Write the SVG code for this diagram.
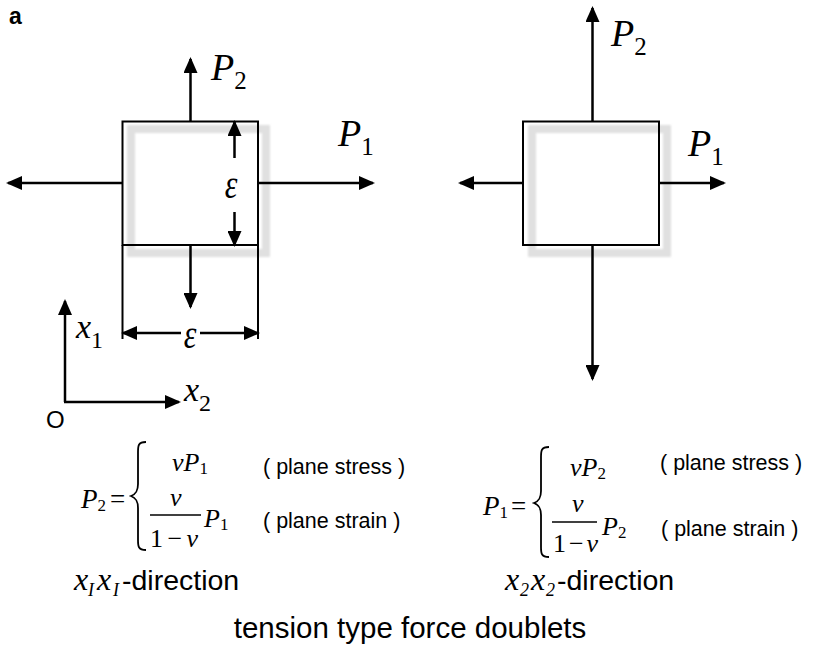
<svg xmlns="http://www.w3.org/2000/svg" width="818" height="654" viewBox="0 0 818 654">
<style>
.ln{stroke:#000;stroke-width:2.5;fill:none}
.box{stroke:#000;stroke-width:2;fill:none}
.sh{stroke:#e0e0e0;stroke-width:8;fill:none}
.m{font-family:"Liberation Serif","Times New Roman",serif;font-style:italic;fill:#000}
.r{font-family:"Liberation Serif","Times New Roman",serif;fill:#000}
.s{font-family:"Liberation Sans",Arial,sans-serif;fill:#000}
.sub{font-family:"Liberation Serif","Times New Roman",serif;font-style:normal}
</style>
<defs>
<marker id="ah" markerUnits="userSpaceOnUse" markerWidth="16" markerHeight="14" refX="14" refY="7" orient="auto">
<path d="M0,0 L16,7 L0,14 Z" fill="#000"/>
</marker>
<filter id="bl" x="-10%" y="-10%" width="120%" height="120%"><feGaussianBlur stdDeviation="0.8"/></filter>
</defs>

<text x="9" y="24" class="s" font-size="23" font-weight="bold">a</text>

<g id="left-element">
<rect x="131" y="129" width="135" height="124" class="sh" filter="url(#bl)"/>
<rect x="122.5" y="121.5" width="135.5" height="123.5" class="box"/>
<line x1="122.5" y1="245" x2="122.5" y2="339" class="box"/>
<line x1="258" y1="245" x2="258" y2="339" class="box"/>
</g>

<g id="right-element">
<rect x="532" y="129" width="135" height="124" class="sh" filter="url(#bl)"/>
<rect x="523" y="121.5" width="136" height="123.5" class="box"/>
</g>

<g id="connectors">
<line x1="190.5" y1="121" x2="190.5" y2="59" class="ln" marker-end="url(#ah)"/>
<line x1="122" y1="183" x2="8" y2="183" class="ln" marker-end="url(#ah)"/>
<line x1="258" y1="183" x2="373" y2="183" class="ln" marker-end="url(#ah)"/>
<line x1="190.5" y1="245" x2="190.5" y2="307" class="ln" marker-end="url(#ah)"/>
<line x1="234.5" y1="158" x2="234.5" y2="122" class="ln" marker-end="url(#ah)"/>
<line x1="234.5" y1="212" x2="234.5" y2="245" class="ln" marker-end="url(#ah)"/>
<line x1="181" y1="333" x2="123" y2="333" class="ln" marker-end="url(#ah)"/>
<line x1="200" y1="333" x2="258" y2="333" class="ln" marker-end="url(#ah)"/>
<line x1="65" y1="402" x2="65" y2="301" class="ln" marker-end="url(#ah)"/>
<line x1="64" y1="402" x2="179" y2="402" class="ln" marker-end="url(#ah)"/>
<line x1="592.5" y1="121" x2="592.5" y2="8" class="ln" marker-end="url(#ah)"/>
<line x1="523" y1="183" x2="460" y2="183" class="ln" marker-end="url(#ah)"/>
<line x1="659" y1="183" x2="724" y2="183" class="ln" marker-end="url(#ah)"/>
<line x1="592.5" y1="245" x2="592.5" y2="379" class="ln" marker-end="url(#ah)"/>
</g>

<g id="labels-left">
<text x="211" y="80" class="m" font-size="38">P<tspan class="sub" font-size="25" dy="9">2</tspan></text>
<text x="338" y="146" class="m" font-size="38">P<tspan class="sub" font-size="25" dy="9">1</tspan></text>
<text x="231" y="198" class="m" font-size="40" text-anchor="middle" transform="translate(231,198) scale(0.8,1) translate(-231,-198)">ε</text>
<text x="190" y="348" class="m" font-size="40" text-anchor="middle" transform="translate(190,348) scale(0.8,1) translate(-190,-348)">ε</text>
<text x="76" y="338" class="m" font-size="34">x<tspan class="sub" font-size="24" dy="10">1</tspan></text>
<text x="184" y="401" class="m" font-size="34">x<tspan class="sub" font-size="24" dy="10">2</tspan></text>
<text x="46" y="428" class="s" font-size="24">O</text>
</g>

<g id="labels-right">
<text x="611" y="46" class="m" font-size="38">P<tspan class="sub" font-size="25" dy="9">2</tspan></text>
<text x="688" y="156" class="m" font-size="38">P<tspan class="sub" font-size="25" dy="9">1</tspan></text>
</g>

<g id="eq-left">
<text x="81" y="508" class="m" font-size="27">P<tspan class="sub" font-size="17" dy="3">2</tspan></text>
<text x="110" y="508" class="r" font-size="27">=</text>
<path d="M146,442 C138,442 138,446 138,452 L138,484 C138,491 136,494 131,496 C136,498 138,501 138,508 L138,540 C138,546 138,550 146,550" stroke="#000" stroke-width="1.8" fill="none"/>
<text x="172" y="471" class="m" font-size="26">νP<tspan class="sub" font-size="17" dy="3">1</tspan></text>
<text x="170" y="506" class="m" font-size="26">ν</text>
<line x1="150" y1="515" x2="201" y2="515" stroke="#000" stroke-width="1.3"/>
<text x="150" y="547" class="r" font-size="26" textLength="48" lengthAdjust="spacing">1−<tspan class="m">ν</tspan></text>
<text x="204" y="527" class="m" font-size="26">P<tspan class="sub" font-size="17" dy="3">1</tspan></text>
<text x="263" y="474" class="s" font-size="21.5">( plane stress )</text>
<text x="263" y="528" class="s" font-size="21.5">( plane strain )</text>
<text class="m" font-size="32" y="590"><tspan x="74">x</tspan><tspan x="88" font-size="18" dy="6">I</tspan><tspan x="97" dy="-6">x</tspan><tspan x="113" font-size="18" dy="6">I</tspan></text>
<text x="122" y="590" class="s" font-size="28.5">-direction</text>
</g>

<g id="eq-right">
<text x="483" y="515" class="m" font-size="27">P<tspan class="sub" font-size="17" dy="3">1</tspan></text>
<text x="511" y="515" class="r" font-size="27">=</text>
<path d="M549,447 C541,447 541,451 541,457 L541,491 C541,498 539,501 534,503 C539,505 541,508 541,515 L541,547 C541,553 541,557 549,557" stroke="#000" stroke-width="1.8" fill="none"/>
<text x="570" y="476" class="m" font-size="26">νP<tspan class="sub" font-size="17" dy="3">2</tspan></text>
<text x="572" y="512" class="m" font-size="26">ν</text>
<line x1="552" y1="522" x2="597" y2="522" stroke="#000" stroke-width="1.3"/>
<text x="553" y="552" class="r" font-size="26" textLength="45" lengthAdjust="spacing">1−<tspan class="m">ν</tspan></text>
<text x="602" y="535" class="m" font-size="26">P<tspan class="sub" font-size="17" dy="3">2</tspan></text>
<text x="660" y="470" class="s" font-size="21.5">( plane stress )</text>
<text x="661" y="536" class="s" font-size="21.5">( plane strain )</text>
<text class="m" font-size="32" y="590"><tspan x="505">x</tspan><tspan x="520" font-size="18" dy="6">2</tspan><tspan x="531" dy="-6">x</tspan><tspan x="546" font-size="18" dy="6">2</tspan></text>
<text x="557" y="590" class="s" font-size="28.5">-direction</text>
</g>

<text x="410" y="638" class="s" font-size="29.5" text-anchor="middle">tension type force doublets</text>
</svg>
